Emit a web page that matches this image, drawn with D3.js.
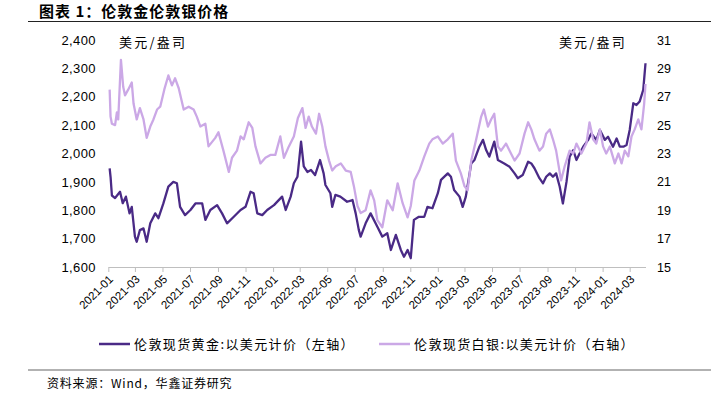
<!DOCTYPE html>
<html>
<head>
<meta charset="UTF-8">
<title>伦敦金伦敦银价格</title>
<script src="https://d3js.org/d3.v7.min.js"></script>
<style>
  body { margin: 0; background: #fff; }
  svg { display: block; }
  .cjk { font-family: "Noto Sans CJK SC", sans-serif; }
  .num { font-family: "Liberation Sans", Arial, sans-serif; }
</style>
</head>
<body>
<div id="chart"></div>
<script>

// x axis ticks (every two months)
var tickMonths = ["2021-01","2021-03","2021-05","2021-07","2021-09","2021-11",
  "2022-01","2022-03","2022-05","2022-07","2022-09","2022-11",
  "2023-01","2023-03","2023-05","2023-07","2023-09","2023-11",
  "2024-01","2024-03"];

var goldTicks = [1600,1700,1800,1900,2000,2100,2200,2300,2400];
var silverTicks = [15,17,19,21,23,25,27,29,31];

// 伦敦现货黄金 (left axis)
var goldDates = ["2021-01-04","2021-01-06","2021-01-09","2021-01-16","2021-01-27","2021-02-02","2021-02-09","2021-02-17","2021-02-22","2021-03-01",
  "2021-03-05","2021-03-12","2021-03-20","2021-03-27","2021-04-04","2021-04-15","2021-04-22","2021-05-03","2021-05-14","2021-05-25",
  "2021-06-02","2021-06-09","2021-06-20","2021-07-02","2021-07-13","2021-07-28","2021-08-04","2021-08-15","2021-08-30","2021-09-10",
  "2021-09-21","2021-10-06","2021-10-21","2021-11-01","2021-11-12","2021-11-19","2021-11-27","2021-12-08","2021-12-19","2022-01-03",
  "2022-01-21","2022-01-29","2022-02-09","2022-02-16","2022-02-24","2022-03-04","2022-03-10","2022-03-18","2022-03-26","2022-04-04",
  "2022-04-15","2022-04-23","2022-04-27","2022-05-08","2022-05-12","2022-05-19","2022-05-30","2022-06-14","2022-06-26","2022-07-03",
  "2022-07-10","2022-07-14","2022-07-25","2022-08-05","2022-08-20","2022-08-31","2022-09-11","2022-09-19","2022-09-30","2022-10-11",
  "2022-10-18","2022-10-26","2022-11-02","2022-11-09","2022-11-20","2022-12-02","2022-12-09","2022-12-20","2023-01-01","2023-01-08",
  "2023-01-23","2023-01-30","2023-02-06","2023-02-18","2023-02-25","2023-03-04","2023-03-16","2023-03-23","2023-04-03","2023-04-11",
  "2023-04-18","2023-04-25","2023-05-06","2023-05-14","2023-05-21","2023-05-28","2023-06-09","2023-06-20","2023-06-27","2023-07-08",
  "2023-07-20","2023-07-27","2023-08-03","2023-08-14","2023-08-22","2023-08-29","2023-09-06","2023-09-13","2023-09-20","2023-09-28",
  "2023-10-05","2023-10-13","2023-10-20","2023-10-28","2023-11-04","2023-11-11","2023-11-19","2023-11-30","2023-12-07","2023-12-18",
  "2023-12-26","2024-01-06","2024-01-13","2024-01-24","2024-02-01","2024-02-08","2024-02-16","2024-02-23","2024-03-01","2024-03-09",
  "2024-03-16","2024-03-23","2024-03-31","2024-04-05"];
var goldValues = [1948,1918,1852,1843,1865,1825,1848,1789,1812,1707,
  1689,1730,1736,1689,1754,1789,1772,1824,1883,1900,
  1895,1812,1783,1801,1824,1824,1766,1801,1818,1789,
  1754,1777,1801,1812,1865,1860,1789,1783,1801,1818,
  1848,1801,1848,1895,1918,2042,1955,1935,1942,1924,
  1977,1930,1889,1860,1812,1854,1848,1830,1836,1789,
  1730,1707,1754,1789,1742,1707,1719,1660,1713,1660,
  1636,1660,1631,1766,1777,1777,1812,1807,1860,1907,
  1930,1918,1871,1848,1812,1848,1965,1977,2024,2048,
  2012,1989,2042,1977,1971,1965,1953,1930,1913,1924,
  1971,1965,1948,1913,1895,1918,1930,1918,1930,1883,
  1824,1900,1989,2012,1977,2000,2024,2048,2071,2048,
  2083,2048,2059,2024,2053,2024,2024,2030,2083,2177,
  2171,2183,2224,2318];

// 伦敦现货白银 (right axis)
var silverDates = ["2021-01-04","2021-01-06","2021-01-09","2021-01-16","2021-01-20","2021-01-23","2021-01-29","2021-02-03","2021-02-07","2021-02-14",
  "2021-02-22","2021-02-26","2021-03-05","2021-03-12","2021-03-20","2021-03-27","2021-04-04","2021-04-11","2021-04-19","2021-04-26",
  "2021-05-05","2021-05-14","2021-05-22","2021-05-29","2021-06-06","2021-06-17","2021-06-28","2021-07-09","2021-07-16","2021-07-24",
  "2021-08-04","2021-08-11","2021-08-26","2021-09-02","2021-09-13","2021-09-25","2021-10-02","2021-10-13","2021-10-21","2021-10-28",
  "2021-11-08","2021-11-16","2021-11-23","2021-12-04","2021-12-15","2021-12-26","2022-01-06","2022-01-17","2022-01-25","2022-02-05",
  "2022-02-16","2022-02-25","2022-03-07","2022-03-14","2022-03-21","2022-03-28","2022-04-06","2022-04-13","2022-04-20","2022-04-27",
  "2022-05-05","2022-05-12","2022-05-20","2022-05-31","2022-06-11","2022-06-22","2022-06-29","2022-07-07","2022-07-14","2022-07-25",
  "2022-08-05","2022-08-13","2022-08-20","2022-08-31","2022-09-11","2022-09-23","2022-10-04","2022-10-15","2022-10-26","2022-11-02",
  "2022-11-10","2022-11-21","2022-12-02","2022-12-13","2022-12-20","2023-01-01","2023-01-12","2023-01-23","2023-02-03","2023-02-10",
  "2023-02-21","2023-03-01","2023-03-08","2023-03-16","2023-03-27","2023-04-07","2023-04-13","2023-04-22","2023-04-29","2023-05-06",
  "2023-05-14","2023-05-21","2023-06-01","2023-06-12","2023-06-20","2023-07-01","2023-07-12","2023-07-20","2023-07-27","2023-08-03",
  "2023-08-14","2023-08-22","2023-08-29","2023-09-06","2023-09-13","2023-09-20","2023-10-01","2023-10-09","2023-10-20","2023-10-28",
  "2023-11-04","2023-11-15","2023-11-26","2023-12-03","2023-12-11","2023-12-18","2023-12-26","2024-01-02","2024-01-09","2024-01-17",
  "2024-01-28","2024-02-05","2024-02-12","2024-02-19","2024-02-27","2024-03-05","2024-03-12","2024-03-20","2024-03-27","2024-04-02",
  "2024-04-05"];
var silverValues = [27.5,25.6,25.1,25.0,25.9,25.4,29.6,27.7,27.1,27.5,
  28.0,26.5,25.4,26.2,25.4,24.1,24.9,25.4,26.1,26.3,
  27.5,28.5,27.8,28.3,27.6,26.1,26.3,26.1,25.6,24.9,
  25.1,23.5,24.1,24.5,23.2,21.7,22.7,23.2,24.2,24.0,
  25.2,24.8,23.5,22.3,22.7,22.9,22.9,24.2,22.7,23.5,
  24.2,25.5,26.2,24.8,25.6,24.9,24.4,25.8,24.9,23.5,
  22.5,21.8,22.1,22.3,21.8,21.7,20.7,19.3,18.8,19.0,
  20.4,19.7,18.3,17.8,19.7,19.0,20.9,19.5,18.5,19.3,
  21.1,21.8,22.8,23.7,24.0,24.2,23.7,24.0,24.4,22.5,
  21.6,20.7,20.4,22.5,24.0,25.6,26.1,24.9,25.4,25.8,
  23.5,23.2,23.7,23.0,22.5,23.0,24.4,25.2,24.7,24.0,
  23.2,23.5,24.4,24.7,24.0,23.2,21.1,22.1,23.2,23.0,
  23.7,23.0,23.7,25.2,24.0,23.7,24.7,23.5,23.0,23.5,
  22.3,23.0,22.3,23.2,22.8,24.2,24.7,25.4,24.7,26.5,
  27.9];

var goldName = "伦敦现货黄金:以美元计价（左轴）";
var silverName = "伦敦现货白银:以美元计价（右轴）";
var goldColor = "#4a2a86";
var silverColor = "#cba8e6";

var W = 711, H = 395;
var margin = {top: 40, left: 108.3, right: 711 - 645.5, bottom: 395 - 267};

var parse = d3.timeParse("%Y-%m-%d");
var parseMonth = d3.timeParse("%Y-%m");

var svg = d3.select("#chart").append("svg")
  .attr("width", W).attr("height", H);

// title + rule
svg.append("text").attr("class", "cjk")
  .attr("x", 39).attr("y", 17)
  .attr("font-size", 15).attr("font-weight", "bold").attr("fill", "#000")
  .attr("letter-spacing", 1)
  .text("图表 1：伦敦金伦敦银价格");
svg.append("line").attr("x1", 28).attr("x2", W).attr("y1", 21.5).attr("y2", 21.5)
  .attr("stroke", "#222").attr("stroke-width", 1);

var x = d3.scaleTime()
  .domain([parse("2021-01-01"), parse("2024-04-05")])
  .range([margin.left, W - margin.right]);
var yL = d3.scaleLinear().domain([1600, 2400]).range([H - margin.bottom, margin.top]);
var yR = d3.scaleLinear().domain([15, 31]).range([H - margin.bottom, margin.top]);

// x axis
var xAxis = svg.append("g")
  .attr("transform", "translate(0," + (H - margin.bottom) + ")")
  .call(d3.axisBottom(x)
    .tickValues(tickMonths.map(parseMonth))
    .tickFormat(d3.timeFormat("%Y-%m"))
    .tickSize(5).tickSizeOuter(0));
xAxis.select(".domain").attr("stroke", "#bfbfbf");
xAxis.selectAll(".tick line").attr("stroke", "#bfbfbf");
xAxis.selectAll(".tick text")
  .attr("class", "num")
  .attr("font-size", 11.5).attr("fill", "#000")
  .attr("text-anchor", "end")
  .attr("y", 0).attr("dy", 0)
  .attr("transform", "translate(5,13) rotate(-45)");

// left axis
var left = svg.append("g")
  .attr("transform", "translate(96,0)")
  .call(d3.axisLeft(yL).tickValues(goldTicks).tickFormat(d3.format(",")).tickSize(0));
left.select(".domain").remove();
left.selectAll("text").attr("class", "num").attr("font-size", 13).attr("fill", "#000")
  .attr("letter-spacing", 0.4).attr("x", 0);

// right axis
var right = svg.append("g")
  .attr("transform", "translate(657,0)")
  .call(d3.axisRight(yR).tickValues(silverTicks).tickSize(0));
right.select(".domain").remove();
right.selectAll("text").attr("class", "num").attr("font-size", 12.5).attr("fill", "#000").attr("x", 0);

// unit labels
svg.append("text").attr("class", "cjk").attr("x", 119).attr("y", 47)
  .attr("font-size", 13).attr("letter-spacing", 2.2).text("美元/盎司");
svg.append("text").attr("class", "cjk").attr("x", 627).attr("y", 47)
  .attr("font-size", 13).attr("letter-spacing", 2.2).attr("text-anchor", "end").text("美元/盎司");

// lines
var gold = goldDates.map(function(d, i) { return {date: parse(d), value: goldValues[i]}; });
var silver = silverDates.map(function(d, i) { return {date: parse(d), value: silverValues[i]}; });

svg.append("path").datum(gold)
  .attr("fill", "none").attr("stroke", goldColor).attr("stroke-width", 2.3)
  .attr("stroke-linejoin", "round")
  .attr("d", d3.line().x(function(d) { return x(d.date); }).y(function(d) { return yL(d.value); }));

svg.append("path").datum(silver)
  .attr("fill", "none").attr("stroke", silverColor).attr("stroke-width", 2.3)
  .attr("stroke-linejoin", "round")
  .attr("d", d3.line().x(function(d) { return x(d.date); }).y(function(d) { return yR(d.value); }));

// legend
var legend = [
  {name: goldName, color: goldColor, x: 99},
  {name: silverName, color: silverColor, x: 379}
];
var lg = svg.selectAll(".lg").data(legend).enter().append("g")
  .attr("transform", function(d) { return "translate(" + d.x + ",344)"; });
lg.append("line").attr("x1", 0).attr("x2", 31).attr("y1", 0).attr("y2", 0)
  .attr("stroke", function(d) { return d.color; }).attr("stroke-width", 2.5);
lg.append("text").attr("class", "cjk").attr("x", 35).attr("y", 4.5)
  .attr("font-size", 13).attr("letter-spacing", 1.4).attr("fill", "#000")
  .text(function(d) { return d.name; });

// footer
svg.append("line").attr("x1", 28).attr("x2", W).attr("y1", 370).attr("y2", 370)
  .attr("stroke", "#999").attr("stroke-width", 1.5);
svg.append("text").attr("class", "cjk").attr("x", 47).attr("y", 388)
  .attr("font-size", 12).attr("letter-spacing", 0.8).attr("fill", "#000")
  .text("资料来源：Wind，华鑫证券研究");

</script>
</body>
</html>
